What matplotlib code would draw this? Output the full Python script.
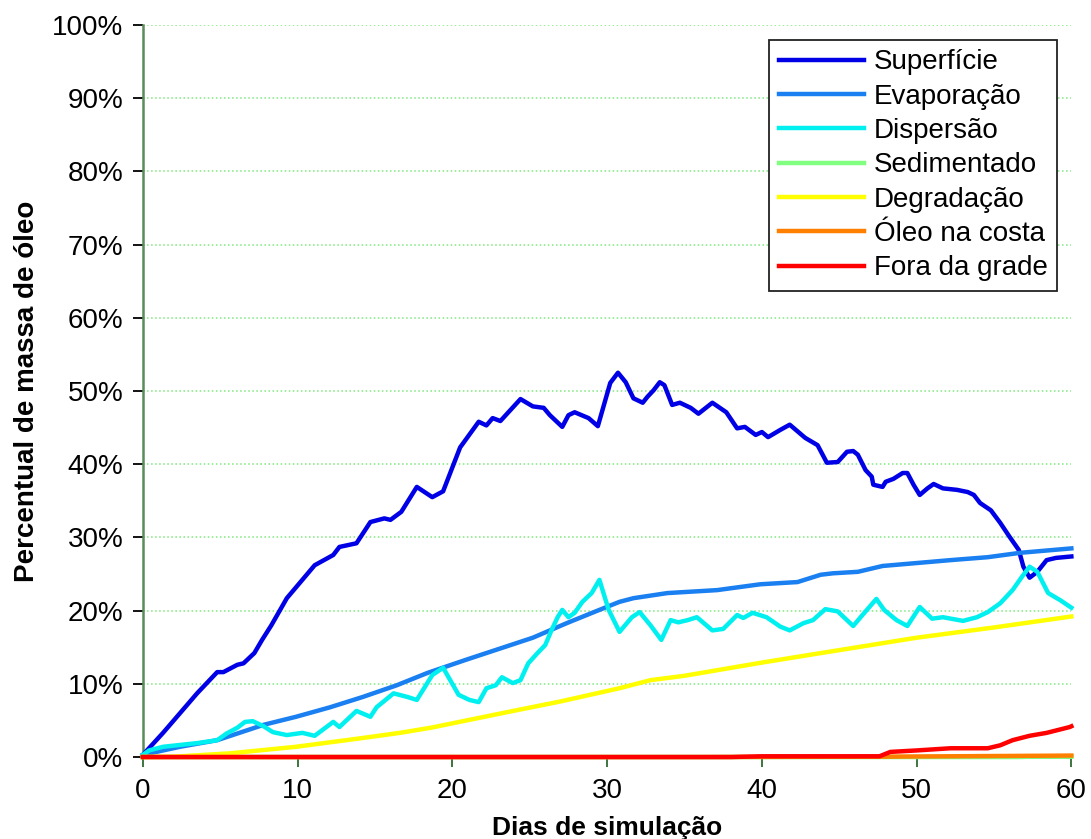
import numpy as np
import matplotlib
matplotlib.use("Agg")
import matplotlib.pyplot as plt
from matplotlib.ticker import PercentFormatter

plt.rcParams['font.family'] = ['Liberation Sans', 'DejaVu Sans']

# Superfície
dias_sup = [0, 1.3, 2.4, 3.5, 4.8, 5.2, 6.1, 6.5, 7.2, 7.7, 8.3, 9.3, 10.3, 11.1,
            12.3, 12.7, 13.8, 14.7, 15.6, 16.0, 16.7, 17.7, 18.7, 19.4, 20.5, 21.7,
            22.2, 22.6, 23.1, 24.4, 25.2, 25.9, 26.3, 27.1, 27.5, 27.9, 28.8, 29.4,
            30.2, 30.7, 31.2, 31.7, 32.3, 32.6, 33.0, 33.4, 33.7, 34.2, 34.7, 35.4,
            35.9, 36.8, 37.7, 38.4, 38.9, 39.6, 40.0, 40.4, 41.2, 41.8, 42.8, 43.6,
            44.2, 44.9, 45.5, 45.9, 46.2, 46.7, 47.1, 47.2, 47.8, 48.0, 48.5, 49.1,
            49.4, 49.8, 50.2, 50.7, 51.1, 51.7, 52.6, 53.3, 53.7, 54.1, 54.8, 55.4,
            56.0, 56.6, 56.9, 57.3, 57.8, 58.4, 59.0, 60.0]
superficie = [0.3, 3.3, 6.0, 8.7, 11.6, 11.6, 12.6, 12.8, 14.2, 16.0, 18.0, 21.7,
              24.2, 26.2, 27.6, 28.7, 29.2, 32.1, 32.6, 32.4, 33.5, 36.9, 35.5, 36.3,
              42.3, 45.8, 45.3, 46.3, 45.9, 48.9, 47.9, 47.7, 46.7, 45.1, 46.7, 47.1,
              46.3, 45.2, 51.1, 52.5, 51.2, 49.0, 48.4, 49.2, 50.1, 51.2, 50.8, 48.1,
              48.4, 47.7, 46.9, 48.4, 47.1, 44.9, 45.1, 44.0, 44.4, 43.7, 44.7, 45.4,
              43.6, 42.6, 40.2, 40.3, 41.7, 41.8, 41.3, 39.2, 38.3, 37.2, 36.9, 37.6,
              38.0, 38.8, 38.8, 37.2, 35.8, 36.7, 37.3, 36.7, 36.5, 36.2, 35.8, 34.7,
              33.7, 32.0, 30.1, 28.3, 26.0, 24.5, 25.3, 26.9, 27.2, 27.4]

# Evaporação
dias_evap = [0, 2.4, 4.8, 7.8, 9.9, 12.1, 14.2, 16.4, 18.4, 20.9, 25.2, 27.4, 29.5,
             30.8, 31.7, 33.9, 37.1, 39.9, 42.3, 43.8, 44.6, 46.2, 47.8, 50.0, 52.2,
             54.6, 56.7, 60.0]
evaporacao = [0.3, 1.4, 2.3, 4.4, 5.5, 6.8, 8.2, 9.8, 11.5, 13.3, 16.3, 18.3, 20.1,
              21.2, 21.7, 22.4, 22.8, 23.6, 23.9, 24.9, 25.1, 25.3, 26.1, 26.5, 26.9,
              27.3, 27.9, 28.5]

# Dispersão
dias_disp = [0, 0.4, 1.3, 3.5, 4.8, 5.4, 6.1, 6.6, 7.1, 7.8, 8.4, 9.3, 10.3, 11.1,
             12.3, 12.7, 13.8, 14.7, 15.1, 16.2, 17.1, 17.7, 18.7, 19.4, 20.4, 21.1,
             21.7, 22.2, 22.8, 23.2, 23.9, 24.4, 24.9, 25.5, 26.0, 26.4, 26.8, 27.1,
             27.5, 27.9, 28.4, 29.0, 29.5, 30.1, 30.8, 31.6, 32.1, 32.8, 33.5, 34.1,
             34.6, 35.2, 35.8, 36.8, 37.5, 38.4, 38.8, 39.4, 40.3, 41.2, 41.8, 42.7,
             43.3, 44.1, 44.9, 45.9, 46.5, 47.4, 47.9, 48.7, 49.4, 50.2, 51.0, 51.7,
             53.0, 53.9, 54.6, 55.4, 56.2, 56.8, 57.3, 57.8, 58.5, 59.3, 60.0]
dispersao = [0.3, 0.9, 1.4, 1.9, 2.3, 3.2, 4.0, 4.8, 4.9, 4.2, 3.4, 3.0, 3.3, 2.9,
             4.8, 4.1, 6.3, 5.5, 6.8, 8.7, 8.2, 7.8, 11.2, 12.2, 8.5, 7.8, 7.5, 9.4,
             9.8, 10.9, 10.1, 10.5, 12.8, 14.2, 15.3, 17.3, 19.1, 20.1, 19.1, 19.7,
             21.2, 22.4, 24.2, 20.1, 17.1, 19.1, 19.8, 18.0, 16.0, 18.7, 18.4, 18.7,
             19.1, 17.3, 17.5, 19.4, 19.0, 19.7, 19.1, 17.8, 17.3, 18.3, 18.7, 20.2,
             19.9, 17.9, 19.4, 21.6, 20.1, 18.7, 17.9, 20.5, 18.9, 19.1, 18.6, 19.1,
             19.8, 21.0, 22.8, 24.6, 26.0, 25.3, 22.4, 21.4, 20.4]

# Sedimentado
dias_sed = [0, 56.5, 57.5, 60]
sedimentado = [0, 0, 0.05, 0.05]

# Degradação
dias_deg = [0, 2, 5.6, 9.9, 14.2, 16.6, 18.6, 23.7, 27, 30.8, 32.8, 35, 40, 43.8,
            45, 50, 55, 60]
degradacao = [0, 0.05, 0.5, 1.4, 2.6, 3.3, 4.0, 6.2, 7.6, 9.4, 10.5, 11.1, 12.9,
              14.2, 14.6, 16.3, 17.7, 19.2]

# Óleo na costa
dias_costa = [0, 36, 48, 52, 56, 60]
oleo_costa = [0, 0, 0.05, 0.1, 0.15, 0.2]

# Fora da grade
dias_fora = [0, 38, 40, 47.6, 48.3, 50.0, 52.2, 54.6, 55.4, 56.2, 57.3, 58.4, 59.9, 60]
fora_grade = [0, 0, 0.1, 0.1, 0.7, 0.9, 1.2, 1.2, 1.6, 2.3, 2.9, 3.3, 4.1, 4.2]

series = [
    ("Superfície", dias_sup, superficie, "#0000e6"),
    ("Evaporação", dias_evap, evaporacao, "#1a7ff0"),
    ("Dispersão", dias_disp, dispersao, "#00f0f0"),
    ("Sedimentado", dias_sed, sedimentado, "#80ff80"),
    ("Degradação", dias_deg, degradacao, "#ffff00"),
    ("Óleo na costa", dias_costa, oleo_costa, "#ff8000"),
    ("Fora da grade", dias_fora, fora_grade, "#ff0000"),
]

fig = plt.figure(figsize=(10.91, 8.39), dpi=100)
ax = fig.add_axes([0.131, 0.0977, 0.851, 0.8725])

for nome, x, y, cor in series:
    ax.plot(x, y, color=cor, linewidth=3.2, label=nome, zorder=3, clip_on=False)

ax.set_xlim(0, 60)
ax.set_ylim(0, 100)
ax.set_xticks(np.arange(0, 61, 10))
ax.set_yticks(np.arange(0, 101, 10))
ax.yaxis.set_major_formatter(PercentFormatter(decimals=0))

ax.grid(axis="y", linestyle=":", color="#7fe87f", linewidth=1.1)
ax.set_axisbelow(True)

for lado in ["top", "right"]:
    ax.spines[lado].set_visible(False)
ax.spines["left"].set_color("#5b8b5b")
ax.spines["left"].set_linewidth(1.8)
ax.spines["bottom"].set_color("#5b8b5b")
ax.spines["bottom"].set_linewidth(1.8)

ax.tick_params(axis="y", length=7, width=1.3, color="black", pad=7, labelsize=20)
ax.tick_params(axis="x", length=7, width=1.3, color="#2e6b2e", pad=8, labelsize=20)

ax.set_xlabel("Dias de simulação", fontsize=19, fontweight="bold", labelpad=9)
ax.set_ylabel("Percentual de massa de óleo", fontsize=20, fontweight="bold", labelpad=9)

leg = ax.legend(loc="upper right", bbox_to_anchor=(0.985, 0.98), fontsize=20,
                frameon=True, fancybox=False, framealpha=1, edgecolor="#222222",
                handlelength=3.05, handletextpad=0.36, labelspacing=0.3,
                borderpad=0.35, borderaxespad=0)
leg.get_frame().set_linewidth(1.3)

fig.savefig("out.png", dpi=100)
